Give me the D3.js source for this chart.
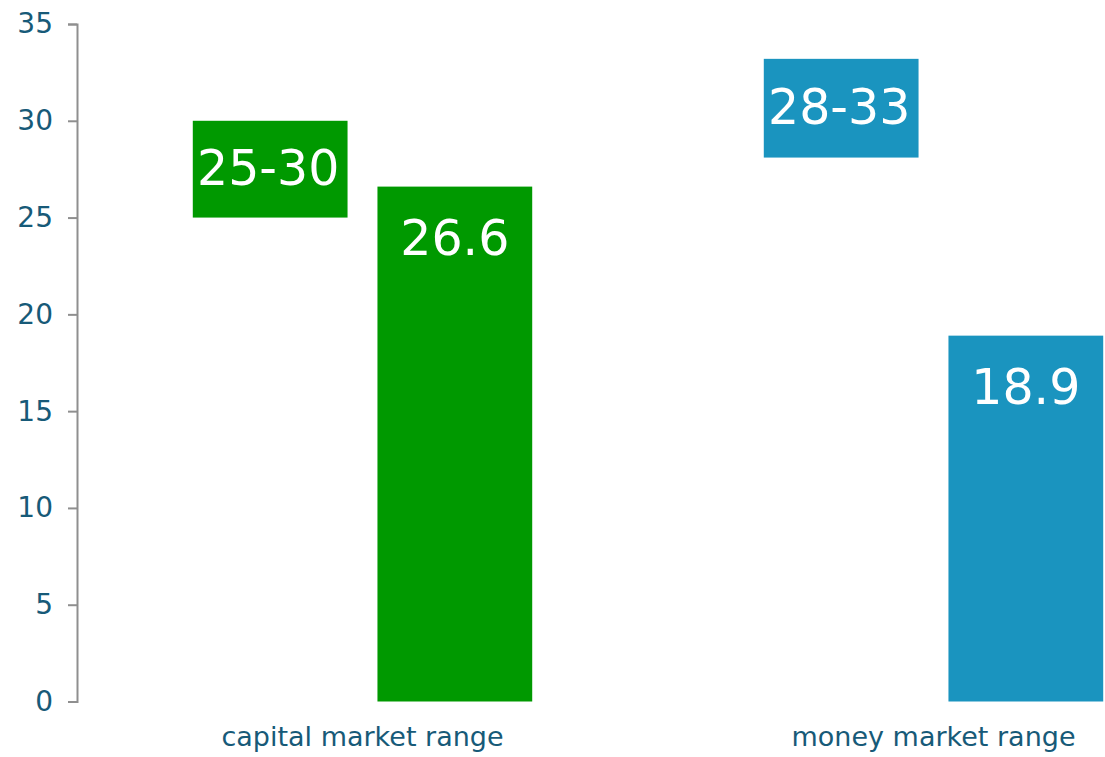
<!DOCTYPE html>
<html>
<head>
<meta charset="utf-8">
<script src="https://cdn.jsdelivr.net/npm/d3@7"></script>
<style>
	body { margin: 0; background: #fff; }
	svg { display: block; font-family: "DejaVu Sans", Verdana, sans-serif; }
</style>
</head>
<body>
<div id="main_node"></div>
<script>
var categories = ["capital market range", "money market range"];
var rangeLow = [25, 28.1];
var rangeHigh = [30, 33.2];
var rangeLabels = ["25-30", "28-33"];
var actualValues = [26.6, 18.9];
var colors = ["#009900", "#1a94bf"];
var yTicks = [0, 5, 10, 15, 20, 25, 30, 35];

var width = 1105,
	height = 757;

var svg = d3
	.select("#main_node")
	.append("svg")
	.attr("width", width)
	.attr("height", height);

// the plot is wider than the picture, second category runs off the right edge
var x = d3.scaleBand().domain(categories).range([77, 77 + 2 * 571]);
var sub = d3
	.scaleBand()
	.domain(["range", "value"])
	.range([0, x.bandwidth()])
	.paddingInner(0.162)
	.paddingOuter(0.627);

var y = d3.scaleLinear().domain([0, 35]).range([701.5, 24]);

var data = categories.map(function (c, i) {
	return {
		name: c,
		low: rangeLow[i],
		high: rangeHigh[i],
		label: rangeLabels[i],
		value: actualValues[i],
		color: colors[i],
	};
});

// y axis
var yAxis = svg
	.append("g")
	.attr("transform", "translate(77,0)")
	.call(d3.axisLeft(y).tickValues(yTicks).tickSize(9).tickPadding(15));
yAxis.select(".domain").attr("stroke", "#8f8f8f").attr("stroke-width", 2);
yAxis.selectAll(".tick line").attr("stroke", "#8f8f8f").attr("stroke-width", 2);
yAxis
	.selectAll(".tick text")
	.attr("fill", "#175a78")
	.style("font-size", "28px")
	.style("font-family", "DejaVu Sans, sans-serif");

var groups = svg
	.selectAll("g.cat")
	.data(data)
	.enter()
	.append("g")
	.attr("class", "cat")
	.attr("transform", function (d) {
		return "translate(" + x(d.name) + ",0)";
	});

// target range boxes
groups
	.append("rect")
	.attr("x", sub("range"))
	.attr("width", sub.bandwidth())
	.attr("y", function (d) {
		return y(d.high);
	})
	.attr("height", function (d) {
		return y(d.low) - y(d.high);
	})
	.attr("fill", function (d) {
		return d.color;
	});

groups
	.append("text")
	.attr("x", sub("range") + sub.bandwidth() / 2 - 2)
	.attr("y", function (d) {
		return (y(d.low) + y(d.high)) / 2;
	})
	.attr("dy", "0.33em")
	.attr("text-anchor", "middle")
	.attr("fill", "#fff")
	.style("font-size", "49px")
	.text(function (d) {
		return d.label;
	});

// actual value bars
groups
	.append("rect")
	.attr("x", sub("value"))
	.attr("width", sub.bandwidth())
	.attr("y", function (d) {
		return y(d.value);
	})
	.attr("height", function (d) {
		return y(0) - y(d.value);
	})
	.attr("fill", function (d) {
		return d.color;
	});

groups
	.append("text")
	.attr("x", sub("value") + sub.bandwidth() / 2)
	.attr("y", function (d) {
		return y(d.value) + 68;
	})
	.attr("text-anchor", "middle")
	.attr("fill", "#fff")
	.style("font-size", "49px")
	.text(function (d) {
		return d.value.toFixed(1);
	});

// category labels
groups
	.append("text")
	.attr("x", x.bandwidth() / 2)
	.attr("y", 746)
	.attr("text-anchor", "middle")
	.attr("fill", "#175a78")
	.style("font-size", "27px")
	.text(function (d) {
		return d.name;
	});
</script>
</body>
</html>
